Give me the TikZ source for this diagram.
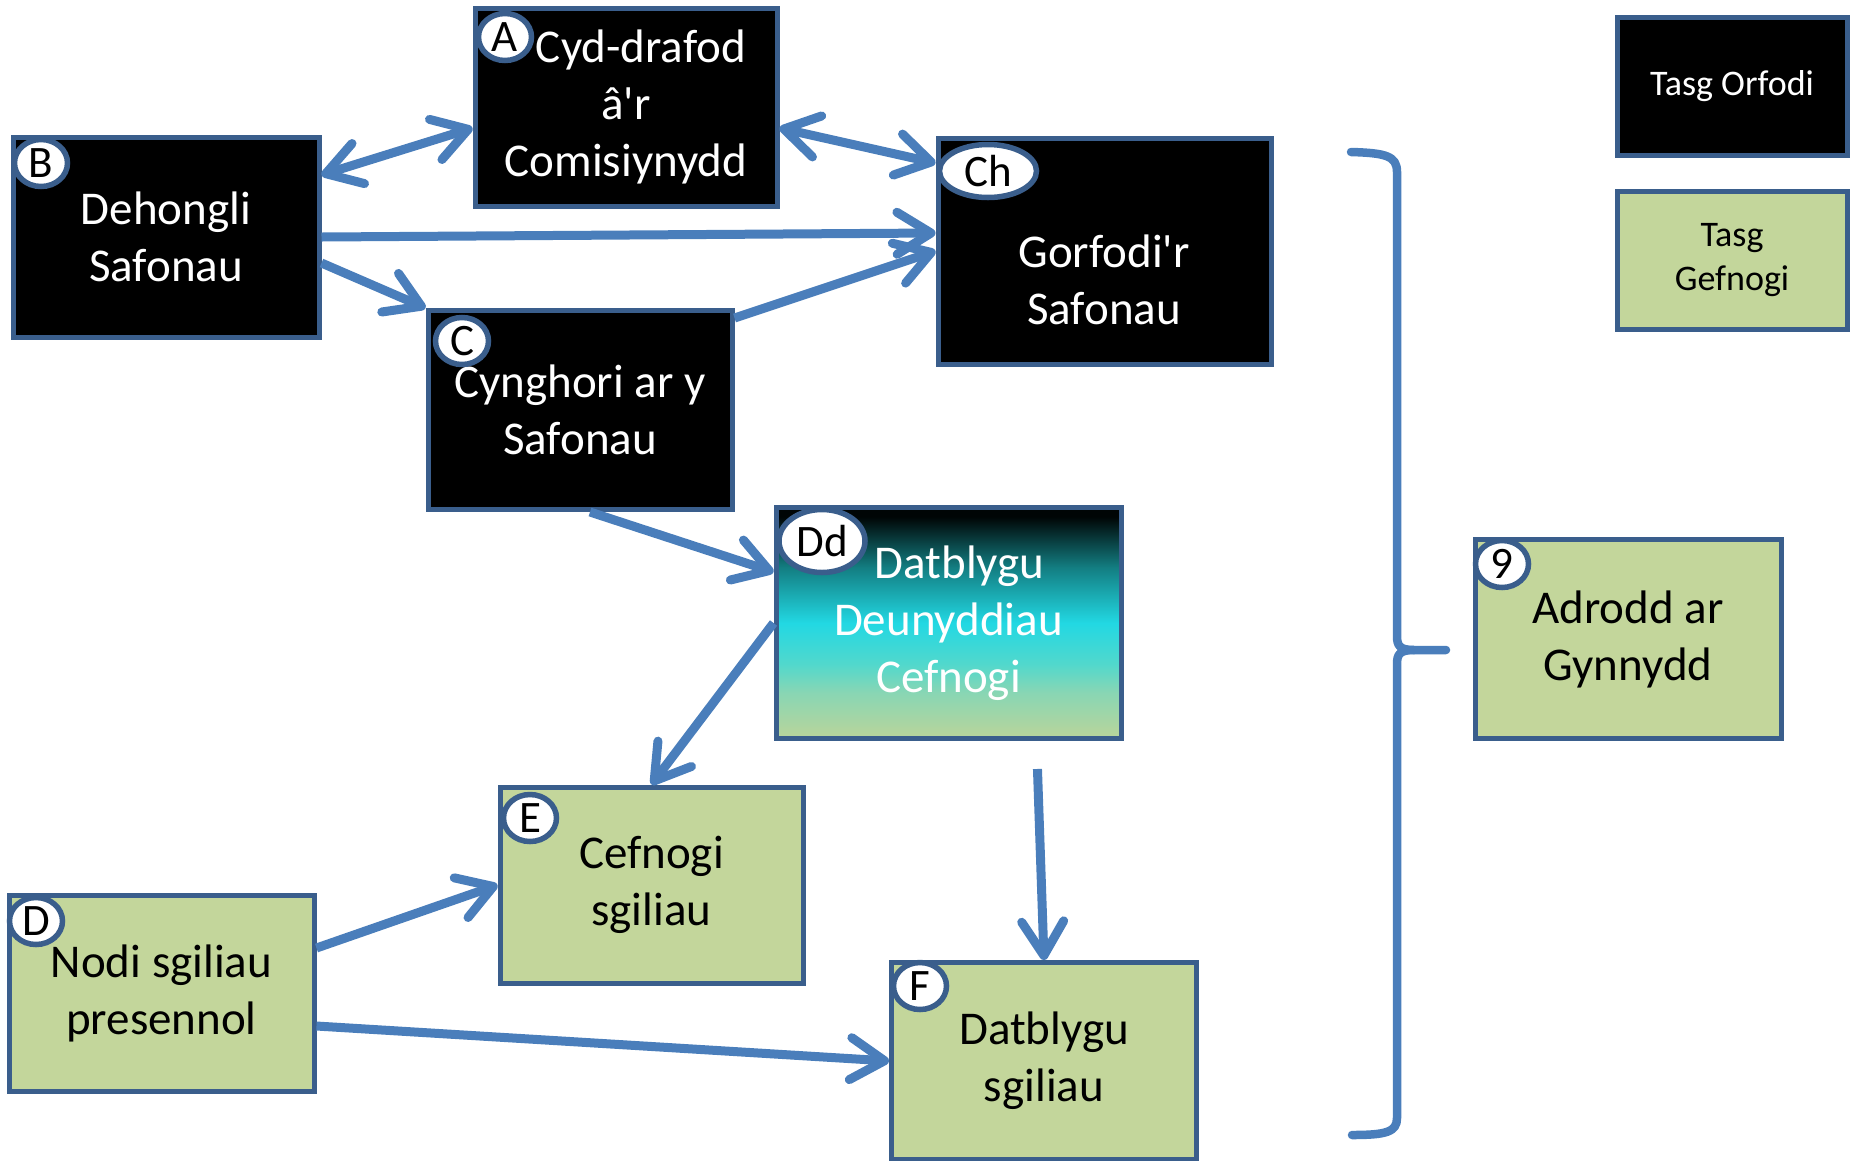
\documentclass[tikz,border=0pt]{standalone}
\usepackage{fontspec}
\setmainfont{Carlito}
\usetikzlibrary{arrows.meta,shapes.geometric}
\definecolor{arrowblue}{HTML}{4A7EBB}
\definecolor{boxline}{HTML}{3A5E8C}
\definecolor{taskgreen}{HTML}{C3D69B}
\definecolor{ddbot}{HTML}{BAD59A}
\definecolor{ddgreen}{HTML}{88D6B4}
\definecolor{ddturq}{HTML}{52D8CC}
\definecolor{ddcyan}{HTML}{22D8E3}
\definecolor{ddteal}{HTML}{137E82}
\definecolor{ddtop}{HTML}{000505}
\pgfdeclareverticalshading{ddshade}{100bp}{color(0bp)=(ddbot); color(25bp)=(ddbot); color(35bp)=(ddgreen); color(41bp)=(ddturq); color(50bp)=(ddcyan); color(62bp)=(ddteal); color(73bp)=(ddtop); color(100bp)=(ddtop)}
\begin{document}
\begin{tikzpicture}[x=1pt,y=-1pt,
  taskbox/.style={draw=boxline, line width=5pt, rectangle, inner sep=0pt, align=center,
    font=\fontsize{47}{57}\selectfont},
  blacktask/.style={taskbox, fill=black, text=white},
  greentask/.style={taskbox, fill=taskgreen, text=black},
  lettertag/.style={ellipse, draw=boxline, line width=5.5pt, fill=white, inner sep=0pt,
    minimum width=53pt, minimum height=47pt, font=\fontsize{45}{45}\selectfont},
  conn/.style={draw=arrowblue, line width=9pt,
    -{Straight Barb[length=34pt,width=42pt,round]}},
  dconn/.style={draw=arrowblue, line width=9pt,
    {Straight Barb[length=34pt,width=42pt,round]}-{Straight Barb[length=34pt,width=42pt,round]}},
  bracestyle/.style={draw=arrowblue, line width=8.5pt, line cap=round, line join=round},
  legendtxt/.style={align=center, font=\fontsize{36}{44}\selectfont}
]
\useasboundingbox (0,0) rectangle (1851,1160);

% task boxes
\node[blacktask, minimum width=302pt, minimum height=198pt] (A) at (626,107) {\hspace*{30pt}Cyd-drafod\\â\textquotesingle r\\Comisiynydd};
\node[blacktask, minimum width=306pt, minimum height=200pt] (B) at (166,237) {Dehongli\\Safonau};
\node[blacktask, minimum width=304pt, minimum height=199pt] (C) at (580,410) {Cynghori ar y\\Safonau};
\node[blacktask, minimum width=333pt, minimum height=226pt] (Ch) at (1104.5,251) {};
\node[align=center, text=white, font=\fontsize{47}{57}\selectfont] (Chtxt) at (1104,280) {Gorfodi\textquotesingle r\\Safonau};
\node[taskbox, shading=ddshade, text=white, minimum width=345pt, minimum height=231pt] (Dd) at (948.5,623) {\hspace*{22pt}Datblygu\\Deunyddiau\\Cefnogi};
\node[greentask, minimum width=303pt, minimum height=196pt] (E) at (651.5,885) {Cefnogi\\sgiliau};
\node[greentask, minimum width=305pt, minimum height=196pt] (D) at (161.5,993) {Nodi sgiliau\\presennol};
\node[greentask, minimum width=305pt, minimum height=197pt] (F) at (1044,1061) {Datblygu\\sgiliau};
\node[greentask, minimum width=306pt, minimum height=199pt] (R) at (1628,639) {Adrodd ar\\Gynnydd};

% legend
\node[blacktask, legendtxt, minimum width=230pt, minimum height=138pt] (L1) at (1732,86) {Tasg Orfodi};
\node[greentask, legendtxt, minimum width=230pt, minimum height=138pt] (L2) at (1732,260) {Tasg\\Gefnogi};

% letter tags
\node[lettertag] (tA) at (505,37) {A};
\node[lettertag] (tB) at (41,163) {B};
\node[lettertag] (tC) at (462,341) {C};
\node[lettertag, minimum width=97pt, minimum height=53pt] (tCh) at (988,171) {Ch};
\node[lettertag, minimum width=86pt, minimum height=63pt] (tDd) at (822,541) {Dd};
\node[lettertag] (tE) at (530,818) {E};
\node[lettertag] (tD) at (36,921) {D};
\node[lettertag] (tF) at (920,986) {F};
\node[lettertag] (tR) at (1502,564) {9};

% connectors
\draw[dconn] ([yshift=62pt]B.east) -- ([yshift=-21pt]A.west);
\draw[dconn] ([yshift=-21pt]A.east) -- ([yshift=88pt]Ch.west);
\draw[conn] (B.east) -- ([yshift=18pt]Ch.west);
\draw[conn] ([yshift=-26pt]B.east) -- (C.north west);
\draw[conn] ([yshift=-10pt]C.north east) -- (Ch.west);
\draw[conn] ([xshift=10pt]C.south) -- ([yshift=51pt]Dd.west);
\draw[conn] (Dd.west) -- (E.north);
\draw[conn, shorten <=28pt] ([xshift=88pt]Dd.south) -- (F.north);
\draw[conn] ([yshift=45pt]D.east) -- (E.west);
\draw[conn] ([yshift=-33pt]D.east) -- (F.west);

% brace
\draw[bracestyle] (1351,152) .. controls (1386,153) and (1397,156) .. (1397,172)
  -- (1397,636) .. controls (1397,646) and (1400,650) .. (1414,650) -- (1446,650);
\draw[bracestyle] (1414,650) .. controls (1400,650) and (1397,654) .. (1397,664)
  -- (1397,1118) .. controls (1397,1132) and (1386,1135) .. (1352,1135);
\end{tikzpicture}
\end{document}
